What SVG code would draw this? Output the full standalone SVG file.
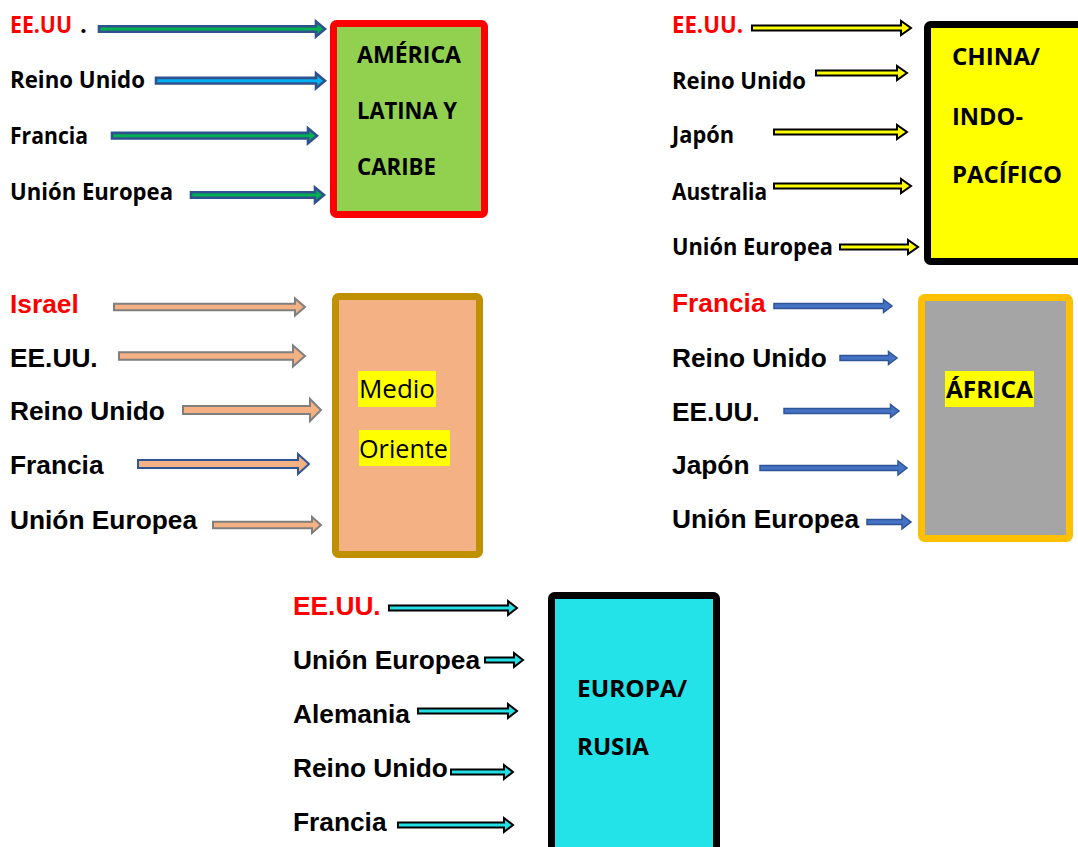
<svg xmlns="http://www.w3.org/2000/svg" width="1078" height="847" viewBox="0 0 1078 847">
<style>
.cal{font-family:"Open Sans","Liberation Sans",sans-serif;font-weight:bold;font-size:24px;fill:#000}
.calr{font-family:"Open Sans","Liberation Sans",sans-serif;font-size:26px;fill:#000}
.ar{font-family:"Liberation Sans",Arial,sans-serif;font-weight:bold;font-size:26.3px;fill:#000}
.red{fill:#FF0000}
.a-g{fill:#00B050;stroke:#2F528F;stroke-width:2.6}
.a-b{fill:#00B0F0;stroke:#2F528F;stroke-width:2.6}
.a-y{fill:#FFFF00;stroke:#000;stroke-width:2}
.a-p{fill:#F4B183;stroke:#7F7F7F;stroke-width:2}
.a-pb{fill:#F4B183;stroke:#2F5597;stroke-width:2}
.a-bl{fill:#4472C4;stroke:#2F5597;stroke-width:1.5}
.a-c{fill:#22E0E6;stroke:#000;stroke-width:2}
.box{stroke-width:7}
.hl{fill:#FFFF00}
</style>
<rect width="1078" height="847" fill="#FFFFFF"/>

<g id="node-america">
<rect class="box" x="333.5" y="23.5" width="151" height="191" rx="3" fill="#92D050" stroke="#FF0000"/>
<text class="cal" x="357" y="63" textLength="104" lengthAdjust="spacingAndGlyphs">AMÉRICA</text>
<text class="cal" x="357" y="119" textLength="100" lengthAdjust="spacingAndGlyphs">LATINA Y</text>
<text class="cal" x="357" y="175" textLength="79" lengthAdjust="spacingAndGlyphs">CARIBE</text>
</g>
<g id="labels-america">
<text class="cal red" x="10" y="33" textLength="62" lengthAdjust="spacingAndGlyphs">EE.UU</text>
<text class="cal" x="80" y="33">.</text>
<text class="cal" x="10" y="88" textLength="135" lengthAdjust="spacingAndGlyphs">Reino Unido</text>
<text class="cal" x="10" y="144" textLength="78" lengthAdjust="spacingAndGlyphs">Francia</text>
<text class="cal" x="10" y="200" textLength="163" lengthAdjust="spacingAndGlyphs">Unión Europea</text>
</g>

<g id="node-china">
<rect class="box" x="927.5" y="24.5" width="200" height="237" rx="3" fill="#FFFF00" stroke="#000"/>
<text class="cal" x="952" y="65" textLength="88" lengthAdjust="spacingAndGlyphs">CHINA/</text>
<text class="cal" x="952" y="125" textLength="71" lengthAdjust="spacingAndGlyphs">INDO-</text>
<text class="cal" x="952" y="183" textLength="110" lengthAdjust="spacingAndGlyphs">PACÍFICO</text>
</g>
<g id="labels-china">
<text class="cal red" x="672" y="33" textLength="71" lengthAdjust="spacingAndGlyphs">EE.UU.</text>
<text class="cal" x="672" y="89" textLength="134" lengthAdjust="spacingAndGlyphs">Reino Unido</text>
<text class="cal" x="672" y="143" textLength="62" lengthAdjust="spacingAndGlyphs">Japón</text>
<text class="cal" x="672" y="200" textLength="95" lengthAdjust="spacingAndGlyphs">Australia</text>
<text class="cal" x="672" y="255" textLength="161" lengthAdjust="spacingAndGlyphs">Unión Europea</text>
</g>

<g id="node-medio-oriente">
<rect class="box" x="335.5" y="296.5" width="144" height="258" rx="3" fill="#F4B183" stroke="#BF9000"/>
<rect class="hl" x="358" y="371" width="78" height="36"/>
<rect class="hl" x="359" y="430" width="91" height="36"/>
<text class="calr" x="359" y="398" textLength="76" lengthAdjust="spacingAndGlyphs">Medio</text>
<text class="calr" x="359" y="458" textLength="89" lengthAdjust="spacingAndGlyphs">Oriente</text>
</g>
<g id="labels-medio-oriente">
<text class="ar red" x="10" y="313">Israel</text>
<text class="ar" x="10" y="367">EE.UU.</text>
<text class="ar" x="10" y="420">Reino Unido</text>
<text class="ar" x="10" y="474">Francia</text>
<text class="ar" x="10" y="529">Unión Europea</text>
</g>

<g id="node-africa">
<rect class="box" x="921.5" y="297.5" width="148" height="241" rx="3" fill="#A5A5A5" stroke="#FFC000"/>
<rect class="hl" x="945" y="371" width="89" height="36"/>
<text class="cal" x="946" y="398" textLength="87" lengthAdjust="spacingAndGlyphs">ÁFRICA</text>
</g>
<g id="labels-africa">
<text class="ar red" x="672" y="312">Francia</text>
<text class="ar" x="672" y="367">Reino Unido</text>
<text class="ar" x="672" y="421">EE.UU.</text>
<text class="ar" x="672" y="474">Japón</text>
<text class="ar" x="672" y="528">Unión Europea</text>
</g>

<g id="node-europa">
<rect class="box" x="551.5" y="595.5" width="165" height="300" rx="3" fill="#23E2E8" stroke="#000"/>
<text class="cal" x="577" y="697" textLength="110" lengthAdjust="spacingAndGlyphs">EUROPA/</text>
<text class="cal" x="577" y="755" textLength="72" lengthAdjust="spacingAndGlyphs">RUSIA</text>
</g>
<g id="labels-europa">
<text class="ar red" x="293" y="615">EE.UU.</text>
<text class="ar" x="293" y="669">Unión Europea</text>
<text class="ar" x="293" y="723">Alemania</text>
<text class="ar" x="293" y="777">Reino Unido</text>
<text class="ar" x="293" y="831">Francia</text>
</g>

<g id="connectors">
<path class="a-g" d="M99,26.2 H316 V21.5 L325,29 L316,36.5 V31.8 H99 Z"/>
<path class="a-b" d="M156,77.9 H316 V73.2 L325,80.7 L316,88.2 V83.5 H156 Z"/>
<path class="a-g" d="M112,132.9 H308 V128.2 L317,135.7 L308,143.2 V138.5 H112 Z"/>
<path class="a-g" d="M191,192.2 H315 V187.5 L324,195 L315,202.5 V197.8 H191 Z"/>

<path class="a-y" d="M752,25.5 H901 V21 L911,28 L901,35 V30.5 H752 Z"/>
<path class="a-y" d="M816,70.5 H897 V66 L907,73 L897,80 V75.5 H816 Z"/>
<path class="a-y" d="M774,129.5 H897 V125 L907,132 L897,139 V134.5 H774 Z"/>
<path class="a-y" d="M774,183.5 H901 V179 L911,186 L901,193 V188.5 H774 Z"/>
<path class="a-y" d="M840,244.5 H908 V240 L918,247 L908,254 V249.5 H840 Z"/>

<path class="a-p" d="M114,303.7 H295 V298.5 L305,307 L295,315.5 V310.3 H114 Z"/>
<path class="a-p" d="M119,352.3 H293 V345.5 L305,356 L293,366.5 V359.7 H119 Z"/>
<path class="a-p" d="M183,406 H310 V399 L321,410 L310,421 V414 H183 Z"/>
<path class="a-pb" d="M138,460 H298 V454 L309,464 L298,474 V468 H138 Z"/>
<path class="a-p" d="M213,521.7 H312 V517 L321,525 L312,533 V528.3 H213 Z"/>

<path class="a-bl" d="M774,303.5 H883.5 V299.5 L892,306 L883.5,312.5 V308.5 H774 Z"/>
<path class="a-bl" d="M840,355.5 H888.5 V351.5 L897,358 L888.5,364.5 V360.5 H840 Z"/>
<path class="a-bl" d="M784,408.5 H890.5 V404.5 L899,411 L890.5,417.5 V413.5 H784 Z"/>
<path class="a-bl" d="M760,465.5 H898 V461 L907,468 L898,475 V470.5 H760 Z"/>
<path class="a-bl" d="M867,519.5 H902 V515 L911,522 L902,529 V524.5 H867 Z"/>

<path class="a-c" d="M389,605.6 H508 V601 L517,608 L508,615 V610.4 H389 Z"/>
<path class="a-c" d="M485,657.6 H514 V653 L523,660 L514,667 V662.4 H485 Z"/>
<path class="a-c" d="M418,708.6 H508 V704 L517,711 L508,718 V713.4 H418 Z"/>
<path class="a-c" d="M451,769.6 H504 V765 L513,772 L504,779 V774.4 H451 Z"/>
<path class="a-c" d="M398,822.6 H504 V818 L513,825 L504,832 V827.4 H398 Z"/>
</g>
</svg>
